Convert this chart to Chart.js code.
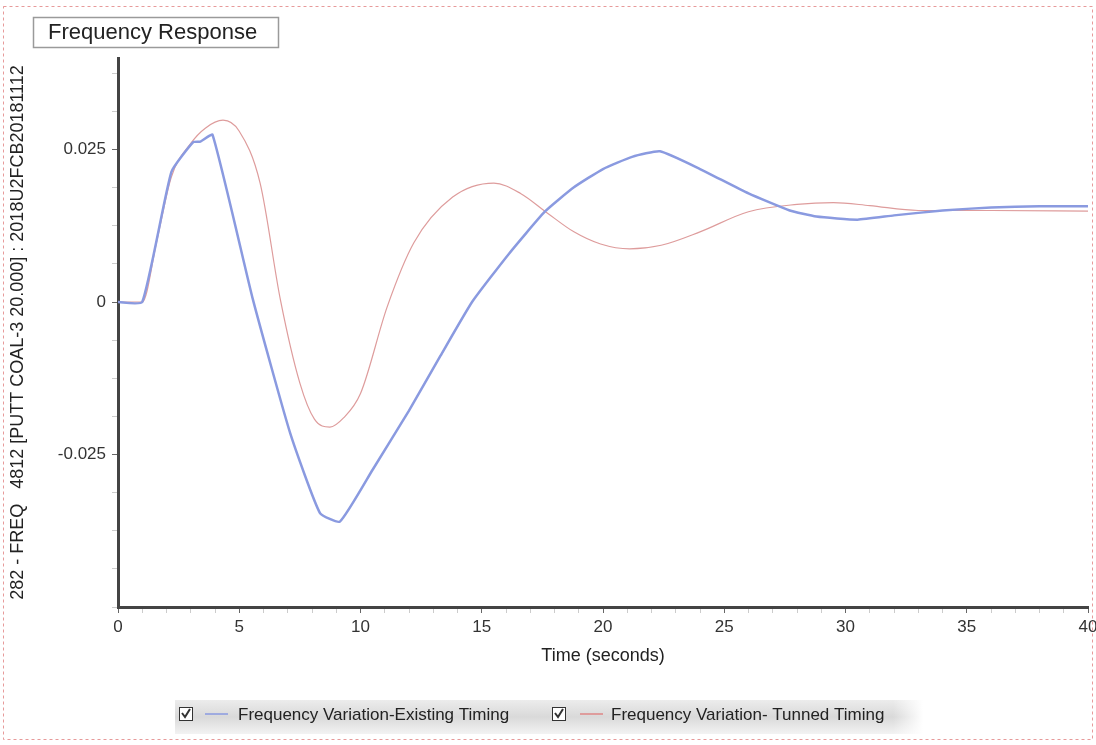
<!DOCTYPE html>
<html>
<head>
<meta charset="utf-8">
<script src="https://cdn.jsdelivr.net/npm/chart.js@4.4.1/dist/chart.umd.min.js"></script>
<style>
  html, body { margin: 0; padding: 0; background: #fff; }
  canvas { display: block; }
</style>
</head>
<body>
<canvas id="freqChart" width="1096" height="745"></canvas>
<script>
// time (s) and frequency deviation
const timeExisting = [0, 1, 2.2, 3.1, 3.4, 3.9, 5.57, 7.1, 8.33, 9.15, 10.5, 12, 13.3, 14.6, 16.1, 17.6, 18.8, 20, 21.2, 22.35, 24, 26, 27.7, 28.8, 30.5, 32, 34, 36, 38, 40];
const freqExisting = [0, 0, 0.0213, 0.0262, 0.0263, 0.0274, 0.0003, -0.0215, -0.0346, -0.036, -0.0275, -0.0178, -0.0088, 0, 0.0078, 0.0148, 0.0188, 0.0218, 0.0238, 0.0247, 0.0218, 0.0178, 0.015, 0.014, 0.0135, 0.0142, 0.015, 0.0155, 0.0157, 0.0157];

const timeTuned = [0, 1, 1.6, 2.2, 3.0, 3.6, 4.33, 5.0, 5.86, 6.7, 7.5, 8.1, 8.74, 9.3, 10, 11.1, 12.2, 13.8, 15.5, 16.6, 17.7, 18.8, 19.9, 21.1, 22.4, 24, 26, 28, 29.5, 31, 33, 36, 40];
const freqTuned = [0, 0, 0.010, 0.0205, 0.026, 0.0285, 0.0298, 0.028, 0.0195, 0.0003, -0.0133, -0.0192, -0.0205, -0.019, -0.015, -0.0008, 0.0097, 0.0172, 0.0195, 0.0178, 0.0146, 0.0115, 0.0095, 0.0087, 0.0093, 0.0115, 0.0148, 0.016, 0.0163, 0.0158, 0.015, 0.015, 0.0149];

const seriesNames = ['Frequency Variation-Existing Timing', 'Frequency Variation- Tunned Timing'];
const seriesColors = ['#8a9ae0', '#de9c9c'];
const yTickLabels = [-0.025, 0, 0.025];
const xTickLabels = [0, 5, 10, 15, 20, 25, 30, 35, 40];

const FONT = 'Arial, "Liberation Sans", sans-serif';

function toPoints(xs, ys) {
  return xs.map((x, i) => ({ x: x, y: ys[i] }));
}

const decorPlugin = {
  id: 'decor',
  beforeDraw(chart) {
    const c = chart.ctx;
    c.save();
    c.fillStyle = '#fff';
    c.fillRect(0, 0, chart.width, chart.height);
    c.restore();
  },
  afterDraw(chart) {
    const c = chart.ctx;
    c.save();
    // outer dashed frame
    c.strokeStyle = '#e79a9a';
    c.lineWidth = 1;
    c.setLineDash([3, 3]);
    c.strokeRect(3.5, 6.5, 1089, 733);
    c.setLineDash([]);

    // title box
    c.fillStyle = '#fff';
    c.fillRect(33, 17, 245, 30);
    c.strokeStyle = '#9a9a9a';
    c.lineWidth = 1.5;
    c.strokeRect(33.5, 17.5, 245, 30);
    c.fillStyle = '#222';
    c.font = '22px ' + FONT;
    c.textBaseline = 'middle';
    c.fillText('Frequency Response', 48, 33);

    // legend band
    const lx = 175, ly = 700, lw = 748, lh = 34;
    const g = c.createLinearGradient(0, ly, 0, ly + lh);
    g.addColorStop(0, '#ececec');
    g.addColorStop(0.5, '#d9d9d9');
    g.addColorStop(1, '#f3f3f3');
    c.fillStyle = g;
    c.fillRect(lx, ly, lw, lh);
    const gh = c.createLinearGradient(lx + lw - 30, 0, lx + lw, 0);
    gh.addColorStop(0, 'rgba(255,255,255,0)');
    gh.addColorStop(1, 'rgba(255,255,255,1)');
    c.fillStyle = gh;
    c.fillRect(lx + lw - 30, ly, 30, lh);

    const items = [
      { box: 179, line: 205, text: 238 },
      { box: 552, line: 580, text: 611 }
    ];
    c.font = '17px ' + FONT;
    items.forEach((it, i) => {
      c.fillStyle = '#fff';
      c.fillRect(it.box, 707, 14, 14);
      c.strokeStyle = '#333';
      c.lineWidth = 1;
      c.strokeRect(it.box + 0.5, 707.5, 13, 13);
      c.beginPath();
      c.lineWidth = 2;
      c.moveTo(it.box + 3, 713);
      c.lineTo(it.box + 6, 717);
      c.lineTo(it.box + 11, 709);
      c.stroke();
      c.beginPath();
      c.strokeStyle = seriesColors[i];
      c.lineWidth = i === 0 ? 1.5 : 2;
      c.moveTo(it.line, 714);
      c.lineTo(it.line + 23, 714);
      c.stroke();
      c.fillStyle = '#222';
      c.textBaseline = 'middle';
      c.fillText(seriesNames[i], it.text, 715);
    });
    c.restore();
  }
};

const ctx = document.getElementById('freqChart').getContext('2d');
const freqChart = new Chart(ctx, {
  type: 'line',
  data: {
    datasets: [{
      label: seriesNames[0],
      data: toPoints(timeExisting, freqExisting),
      borderColor: seriesColors[0],
      borderWidth: 2.5,
      pointRadius: 0,
      tension: 0.15,
      fill: false
    }, {
      label: seriesNames[1],
      data: toPoints(timeTuned, freqTuned),
      borderColor: seriesColors[1],
      borderWidth: 1.2,
      pointRadius: 0,
      cubicInterpolationMode: 'monotone',
      fill: false
    }]
  },
  options: {
    responsive: false,
    animation: false,
    devicePixelRatio: 1,
    layout: { padding: { left: 0, right: 8, top: 58, bottom: 78 } },
    plugins: {
      legend: { display: false },
      tooltip: { enabled: false }
    },
    scales: {
      x: {
        type: 'linear',
        min: 0,
        max: 40,
        afterFit(scale) {
          scale.height = 60;
          scale.paddingLeft = 0;
          scale.paddingRight = 0;
        },
        afterBuildTicks(scale) {
          const t = [];
          for (let v = 0; v <= 40; v++) t.push({ value: v });
          scale.ticks = t;
        },
        ticks: {
          autoSkip: false,
          maxRotation: 0,
          padding: 4,
          color: '#333',
          font: { family: FONT, size: 17 },
          callback: v => xTickLabels.includes(v) ? String(v) : ''
        },
        grid: {
          drawOnChartArea: false,
          tickLength: 6,
          tickColor: c => (c.tick && xTickLabels.includes(c.tick.value)) ? '#666' : '#ccc'
        },
        border: { color: '#444', width: 3 },
        title: {
          display: true,
          text: 'Time (seconds)',
          color: '#222',
          padding: 0,
          font: { family: FONT, size: 18 }
        }
      },
      y: {
        type: 'linear',
        min: -0.05,
        max: 0.04,
        afterFit(scale) { scale.width = 118; },
        afterBuildTicks(scale) {
          const t = [];
          for (let k = -8; k <= 6; k++) t.push({ value: k * 0.00625 });
          scale.ticks = t;
        },
        ticks: {
          autoSkip: false,
          padding: 6,
          color: '#333',
          font: { family: FONT, size: 17 },
          callback: v => {
            const hit = yTickLabels.find(l => Math.abs(l - v) < 1e-9);
            return hit === undefined ? '' : String(hit);
          }
        },
        grid: {
          drawOnChartArea: false,
          tickLength: 6,
          tickColor: c => (c.tick && yTickLabels.some(l => Math.abs(l - c.tick.value) < 1e-9)) ? '#666' : '#ccc'
        },
        border: { color: '#444', width: 3 },
        title: {
          display: true,
          text: '282 - FREQ   4812 [PUTT COAL-3 20.000] : 2018U2FCB20181112',
          color: '#222',
          padding: { top: 7, bottom: 0 },
          font: { family: FONT, size: 18 }
        }
      }
    }
  },
  plugins: [decorPlugin]
});
</script>
</body>
</html>
